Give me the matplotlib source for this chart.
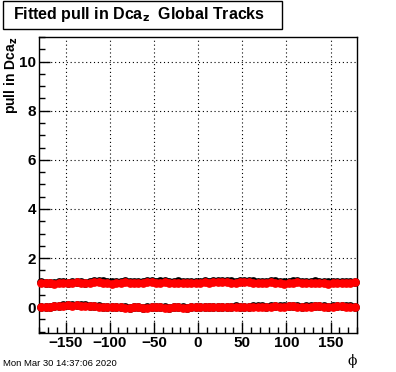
import numpy as np
import matplotlib
matplotlib.use("Agg")
import matplotlib.pyplot as plt
from matplotlib.ticker import MultipleLocator
from matplotlib.patches import Rectangle

# ---- data (5-degree bins in phi) ----
phi = np.arange(-177.5, 180, 5.0)

mean_black = [1.02, 1.00, 0.98, 0.97, 1.01, 1.02, 0.99, 1.03, 1.04, 1.02,
              1.00, 1.03, 1.05, 1.06, 1.05, 1.04, 1.03, 1.02, 1.04, 1.05,
              1.03, 1.01, 1.02, 1.03, 1.06, 1.05, 1.04, 1.05, 1.06, 1.04,
              1.03, 1.05, 1.04, 1.03, 1.02, 1.03, 1.04, 1.05, 1.03, 1.06,
              1.07, 1.08, 1.06, 1.05, 1.04, 1.05, 1.07, 1.06, 1.05, 1.03,
              1.02, 1.04, 1.06, 1.05, 1.03, 1.02, 1.03, 1.05, 1.06, 1.04,
              1.02, 1.03, 1.05, 1.04, 1.03, 1.02, 1.04, 1.03, 1.01, 1.02,
              1.04, 1.03]
mean_red = [1.00, 0.99, 0.97, 0.95, 0.99, 1.00, 0.98, 1.00, 1.01, 0.99,
            0.97, 0.99, 1.01, 1.02, 1.00, 0.98, 0.96, 0.98, 1.00, 1.01,
            0.99, 0.97, 0.98, 1.00, 1.02, 1.01, 0.99, 1.00, 1.01, 0.99,
            0.98, 1.00, 0.99, 0.98, 0.97, 0.98, 1.00, 1.01, 0.99, 1.02,
            1.03, 1.04, 1.02, 1.00, 0.99, 1.01, 1.03, 1.01, 1.00, 0.98,
            0.97, 0.99, 1.01, 1.00, 0.98, 0.96, 0.98, 1.00, 1.01, 0.99,
            0.97, 0.98, 1.00, 0.99, 0.98, 0.96, 0.99, 0.98, 0.97, 0.98,
            1.00, 1.01]
zero_black = [0.00, 0.01, 0.02, 0.04, 0.06, 0.08, 0.09, 0.08, 0.10, 0.09,
              0.07, 0.06, 0.04, 0.03, 0.02, 0.01, 0.02, 0.01, 0.00, -0.01,
              -0.02, -0.01, 0.00, -0.02, -0.01, 0.00, 0.01, 0.00, -0.01, -0.02,
              -0.01, 0.00, -0.01, -0.02, -0.01, 0.00, 0.01, 0.02, 0.01, 0.00,
              -0.01, 0.00, 0.01, 0.02, 0.03, 0.02, 0.01, 0.02, 0.03, 0.04,
              0.03, 0.02, 0.03, 0.04, 0.03, 0.04, 0.05, 0.04, 0.03, 0.02,
              0.03, 0.04, 0.05, 0.04, 0.03, 0.02, 0.03, 0.04, 0.05, 0.04,
              0.03, 0.02]
zero_red = [0.00, 0.01, 0.02, 0.03, 0.05, 0.06, 0.07, 0.06, 0.07, 0.06,
            0.05, 0.04, 0.03, 0.02, 0.01, 0.00, 0.01, 0.00, -0.01, -0.02,
            -0.02, -0.01, -0.01, -0.02, -0.02, -0.01, 0.00, -0.01, -0.02, -0.02,
            -0.01, -0.01, -0.02, -0.02, -0.01, 0.00, 0.00, 0.01, 0.00, -0.01,
            -0.01, 0.00, 0.00, 0.01, 0.02, 0.01, 0.00, 0.01, 0.02, 0.02,
            0.02, 0.01, 0.02, 0.03, 0.02, 0.02, 0.03, 0.03, 0.02, 0.01,
            0.02, 0.02, 0.03, 0.03, 0.02, 0.01, 0.02, 0.03, 0.03, 0.02,
            0.02, 0.01]

plt.rcParams['font.family'] = ['Liberation Sans', 'DejaVu Sans']

fig = plt.figure(figsize=(3.96, 3.72), dpi=100)
ax = fig.add_axes([39/396, 1-333/372, 318/396, 296/372])

ms = 6.3
for y in (mean_black, zero_black):
    ax.plot(phi, y, 'o', color='black', ms=ms, mew=0, zorder=3, clip_on=False)
for y in (mean_red, zero_red):
    ax.plot(phi, y, 'o', color='#ff0000', ms=ms, mew=0, zorder=4, clip_on=False)

ax.set_xlim(-180, 180)
ax.set_ylim(-1.05, 11.0)
ax.xaxis.set_major_locator(MultipleLocator(50))
ax.xaxis.set_minor_locator(MultipleLocator(10))
ax.yaxis.set_major_locator(MultipleLocator(2))
ax.yaxis.set_minor_locator(MultipleLocator(0.5))
ax.tick_params(which='both', direction='in', top=False, right=False, width=1, color='black')
ax.tick_params(which='major', length=8, labelsize=11, pad=2)
ax.tick_params(which='minor', length=4)
for lab in ax.get_xticklabels() + ax.get_yticklabels():
    lab.set_fontweight('bold')
ax.grid(True, which='major', linestyle=(0, (1, 2.5)), color='black', linewidth=0.8)
for s in ax.spines.values():
    s.set_linewidth(1)

fig.text(11/396, 1-37/372, r'pull in Dca$_{\mathbf{z}}$', fontsize=10, fontweight='bold',
         rotation=90, ha='center', va='top')

fig.text(352/396, 1-361/372, '\u03d5', fontsize=10, ha='center', va='center',
         family=['DejaVu Serif'])
fig.text(3/396, 1-363/372, 'Mon Mar 30 14:37:06 2020', fontsize=6.8, ha='left', va='center')

fig.patches.append(Rectangle((3/396, 1-29/372), 279/396, 28/372, transform=fig.transFigure,
                             fill=True, facecolor='white', edgecolor='black', linewidth=1))
fig.text(13/396, 1-14/372, r'Fitted pull in Dca$_{\mathbf{z}}$  Global Tracks', fontsize=11.5,
         fontweight='bold', ha='left', va='center')

fig.savefig('out.png', dpi=100)
